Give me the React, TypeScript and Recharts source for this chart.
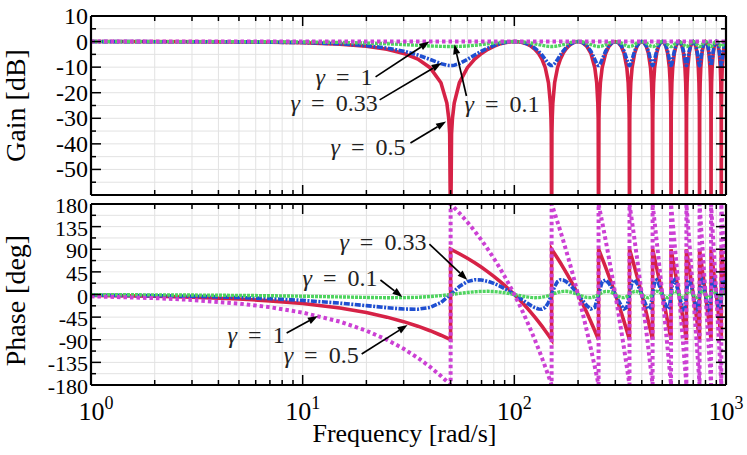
import React from 'react';
import { LineChart, Line, XAxis, YAxis, CartesianGrid, ReferenceLine } from 'recharts';

const FONT = '"Liberation Serif", "Times New Roman", Times, serif';

// ---------- axis ticks ----------
const freqTicks = [1, 2, 3, 4, 5, 6, 7, 8, 9, 10, 20, 30, 40, 50, 60, 70, 80, 90, 100, 200, 300, 400, 500, 600, 700, 800, 900, 1000];
const freqMajorTicks = [1, 10, 100, 1000];
const freqMajorExponents = ['0', '1', '2', '3'];
const gainTicks = [-60, -55, -50, -45, -40, -35, -30, -25, -20, -15, -10, -5, 0, 5, 10];
const gainLabelTicks = [-50, -40, -30, -20, -10, 0, 10];
const phaseTicks = [-180, -157.5, -135, -112.5, -90, -67.5, -45, -22.5, 0, 22.5, 45, 67.5, 90, 112.5, 135, 157.5, 180];
const phaseLabelTicks = [-180, -135, -90, -45, 0, 45, 90, 135, 180];

// ---------- gain data [rad/s] -> [dB] ----------
const gainFreq = [
  1, 5, 10, 15, 20, 25, 30, 35, 40, 45, 48, 49, 49.5, 50, 50.5, 51, 52, 55, 60, 65, 70, 75, 80, 85, 90, 95, 100,
  105, 110, 115, 120, 125, 130, 135, 140, 145, 148, 149, 149.5, 150, 150.5, 151, 152, 155, 160, 165, 170, 175, 180, 185, 190, 195, 200,
  210, 220, 230, 240, 245, 248, 249, 250, 251, 252, 255, 260, 270, 280, 290, 300,
  310, 320, 330, 340, 345, 348, 349, 350, 351, 352, 355, 360, 370, 380, 390, 400,
  410, 420, 430, 440, 445, 448, 449, 450, 451, 452, 455, 460, 470, 480, 490, 500,
  510, 520, 530, 540, 545, 548, 549, 550, 551, 552, 555, 560, 570, 580, 590, 600,
  610, 620, 630, 640, 645, 648, 649, 650, 651, 652, 655, 660, 670, 680, 690, 700,
  710, 720, 730, 740, 745, 748, 749, 750, 751, 752, 755, 760, 770, 780, 790, 800,
  810, 820, 830, 840, 845, 848, 849, 850, 851, 852, 855, 860, 870, 880, 890, 900,
  910, 920, 930, 940, 945, 948, 949, 950, 951, 952, 955, 960, 970, 980, 990, 1000,
];
const gainGamma05 = [
  0, -0.11, -0.44, -1.0, -1.84, -3.01, -4.62, -6.86, -10.2, -16.11, -24.04, -30.06, -36.08, -80, -36.08, -30.06, -24.04, -16.11, -10.2, -6.86, -4.62, -3.01, -1.84, -1.0, -0.44, -0.11, 0,
  -0.11, -0.44, -1.0, -1.84, -3.01, -4.62, -6.86, -10.2, -16.11, -24.04, -30.06, -36.08, -80, -36.08, -30.06, -24.04, -16.11, -10.2, -6.86, -4.62, -3.01, -1.84, -1.0, -0.44, -0.11, 0,
  -0.44, -1.84, -4.62, -10.2, -16.11, -24.04, -30.06, -80, -30.06, -24.04, -16.11, -10.2, -4.62, -1.84, -0.44, 0,
  -0.44, -1.84, -4.62, -10.2, -16.11, -24.04, -30.06, -80, -30.06, -24.04, -16.11, -10.2, -4.62, -1.84, -0.44, 0,
  -0.44, -1.84, -4.62, -10.2, -16.11, -24.04, -30.06, -80, -30.06, -24.04, -16.11, -10.2, -4.62, -1.84, -0.44, 0,
  -0.44, -1.84, -4.62, -10.2, -16.11, -24.04, -30.06, -80, -30.06, -24.04, -16.11, -10.2, -4.62, -1.84, -0.44, 0,
  -0.44, -1.84, -4.62, -10.2, -16.11, -24.04, -30.06, -80, -30.06, -24.04, -16.11, -10.2, -4.62, -1.84, -0.44, 0,
  -0.44, -1.84, -4.62, -10.2, -16.11, -24.04, -30.06, -80, -30.06, -24.04, -16.11, -10.2, -4.62, -1.84, -0.44, 0,
  -0.44, -1.84, -4.62, -10.2, -16.11, -24.04, -30.06, -80, -30.06, -24.04, -16.11, -10.2, -4.62, -1.84, -0.44, 0,
  -0.44, -1.84, -4.62, -10.2, -16.11, -24.04, -30.06, -80, -30.06, -24.04, -16.11, -10.2, -4.62, -1.84, -0.44, 0,
];
const gainGamma033 = [
  0, -0.1, -0.38, -0.87, -1.58, -2.54, -3.76, -5.26, -6.99, -8.63, -9.24, -9.34, -9.36, -9.37, -9.36, -9.34, -9.24, -8.63, -6.99, -5.26, -3.76, -2.54, -1.58, -0.87, -0.38, -0.1, 0,
  -0.1, -0.38, -0.87, -1.58, -2.54, -3.76, -5.26, -6.99, -8.63, -9.24, -9.34, -9.36, -9.37, -9.36, -9.34, -9.24, -8.63, -6.99, -5.26, -3.76, -2.54, -1.58, -0.87, -0.38, -0.1, 0,
  -0.38, -1.58, -3.76, -6.99, -8.63, -9.24, -9.34, -9.37, -9.34, -9.24, -8.63, -6.99, -3.76, -1.58, -0.38, 0,
  -0.38, -1.58, -3.76, -6.99, -8.63, -9.24, -9.34, -9.37, -9.34, -9.24, -8.63, -6.99, -3.76, -1.58, -0.38, 0,
  -0.38, -1.58, -3.76, -6.99, -8.63, -9.24, -9.34, -9.37, -9.34, -9.24, -8.63, -6.99, -3.76, -1.58, -0.38, 0,
  -0.38, -1.58, -3.76, -6.99, -8.63, -9.24, -9.34, -9.37, -9.34, -9.24, -8.63, -6.99, -3.76, -1.58, -0.38, 0,
  -0.38, -1.58, -3.76, -6.99, -8.63, -9.24, -9.34, -9.37, -9.34, -9.24, -8.63, -6.99, -3.76, -1.58, -0.38, 0,
  -0.38, -1.58, -3.76, -6.99, -8.63, -9.24, -9.34, -9.37, -9.34, -9.24, -8.63, -6.99, -3.76, -1.58, -0.38, 0,
  -0.38, -1.58, -3.76, -6.99, -8.63, -9.24, -9.34, -9.37, -9.34, -9.24, -8.63, -6.99, -3.76, -1.58, -0.38, 0,
  -0.38, -1.58, -3.76, -6.99, -8.63, -9.24, -9.34, -9.37, -9.34, -9.24, -8.63, -6.99, -3.76, -1.58, -0.38, 0,
];
const gainGamma01 = [
  0, -0.04, -0.15, -0.33, -0.58, -0.86, -1.17, -1.46, -1.71, -1.88, -1.93, -1.94, -1.94, -1.94, -1.94, -1.94, -1.93, -1.88, -1.71, -1.46, -1.17, -0.86, -0.58, -0.33, -0.15, -0.04, 0,
  -0.04, -0.15, -0.33, -0.58, -0.86, -1.17, -1.46, -1.71, -1.88, -1.93, -1.94, -1.94, -1.94, -1.94, -1.94, -1.93, -1.88, -1.71, -1.46, -1.17, -0.86, -0.58, -0.33, -0.15, -0.04, 0,
  -0.15, -0.58, -1.17, -1.71, -1.88, -1.93, -1.94, -1.94, -1.94, -1.93, -1.88, -1.71, -1.17, -0.58, -0.15, 0,
  -0.15, -0.58, -1.17, -1.71, -1.88, -1.93, -1.94, -1.94, -1.94, -1.93, -1.88, -1.71, -1.17, -0.58, -0.15, 0,
  -0.15, -0.58, -1.17, -1.71, -1.88, -1.93, -1.94, -1.94, -1.94, -1.93, -1.88, -1.71, -1.17, -0.58, -0.15, 0,
  -0.15, -0.58, -1.17, -1.71, -1.88, -1.93, -1.94, -1.94, -1.94, -1.93, -1.88, -1.71, -1.17, -0.58, -0.15, 0,
  -0.15, -0.58, -1.17, -1.71, -1.88, -1.93, -1.94, -1.94, -1.94, -1.93, -1.88, -1.71, -1.17, -0.58, -0.15, 0,
  -0.15, -0.58, -1.17, -1.71, -1.88, -1.93, -1.94, -1.94, -1.94, -1.93, -1.88, -1.71, -1.17, -0.58, -0.15, 0,
  -0.15, -0.58, -1.17, -1.71, -1.88, -1.93, -1.94, -1.94, -1.94, -1.93, -1.88, -1.71, -1.17, -0.58, -0.15, 0,
  -0.15, -0.58, -1.17, -1.71, -1.88, -1.93, -1.94, -1.94, -1.94, -1.93, -1.88, -1.71, -1.17, -0.58, -0.15, 0,
];
const gainGamma1Freq = [1, 1000];
const gainGamma1 = [0, 0];

// ---------- phase data [rad/s] -> [deg] ----------
const phaseFreq = [
  1, 2, 3, 5, 7, 10, 15, 20, 25, 30, 35, 40, 45, 50, 50, 55, 60, 65, 70, 75, 80, 85, 90, 95, 100,
  105, 110, 115, 120, 125, 130, 135, 140, 145, 150, 150, 155, 160, 165, 170, 175, 180, 185, 190, 195, 200,
  210, 220, 230, 240, 250, 250, 260, 270, 280, 290, 300,
  310, 320, 330, 340, 350, 350, 360, 370, 380, 390, 400,
  410, 420, 430, 440, 450, 450, 460, 470, 480, 490, 500,
  510, 520, 530, 540, 550, 550, 560, 570, 580, 590, 600,
  610, 620, 630, 640, 650, 650, 660, 670, 680, 690, 700,
  710, 720, 730, 740, 750, 750, 760, 770, 780, 790, 800,
  810, 820, 830, 840, 850, 850, 860, 870, 880, 890, 900,
  910, 920, 930, 940, 950, 950, 960, 970, 980, 990, 1000,
];
const phaseGamma1 = [
  -3.6, -7.2, -10.8, -18, -25.2, -36, -54, -72, -90, -108, -126, -144, -162, -180, 180, 162, 144, 126, 108, 90, 72, 54, 36, 18, 0,
  -18, -36, -54, -72, -90, -108, -126, -144, -162, -180, 180, 162, 144, 126, 108, 90, 72, 54, 36, 18, 0,
  -36, -72, -108, -144, -180, 180, 144, 108, 72, 36, 0,
  -36, -72, -108, -144, -180, 180, 144, 108, 72, 36, 0,
  -36, -72, -108, -144, -180, 180, 144, 108, 72, 36, 0,
  -36, -72, -108, -144, -180, 180, 144, 108, 72, 36, 0,
  -36, -72, -108, -144, -180, 180, 144, 108, 72, 36, 0,
  -36, -72, -108, -144, -180, 180, 144, 108, 72, 36, 0,
  -36, -72, -108, -144, -180, 180, 144, 108, 72, 36, 0,
  -36, -72, -108, -144, -180, 180, 144, 108, 72, 36, 0,
];
const phaseGamma05 = [
  -1.8, -3.6, -5.4, -9, -12.6, -18, -27, -36, -45, -54, -63, -72, -81, -90, 90, 81, 72, 63, 54, 45, 36, 27, 18, 9, 0,
  -9, -18, -27, -36, -45, -54, -63, -72, -81, -90, 90, 81, 72, 63, 54, 45, 36, 27, 18, 9, 0,
  -18, -36, -54, -72, -90, 90, 72, 54, 36, 18, 0,
  -18, -36, -54, -72, -90, 90, 72, 54, 36, 18, 0,
  -18, -36, -54, -72, -90, 90, 72, 54, 36, 18, 0,
  -18, -36, -54, -72, -90, 90, 72, 54, 36, 18, 0,
  -18, -36, -54, -72, -90, 90, 72, 54, 36, 18, 0,
  -18, -36, -54, -72, -90, 90, 72, 54, 36, 18, 0,
  -18, -36, -54, -72, -90, 90, 72, 54, 36, 18, 0,
  -18, -36, -54, -72, -90, 90, 72, 54, 36, 18, 0,
];
const phaseGamma033 = [
  -1.19, -2.37, -3.56, -5.92, -8.25, -11.7, -17.17, -22.13, -26.22, -28.92, -29.28, -25.7, -15.98, 0, 0, 15.98, 25.7, 29.28, 28.92, 26.22, 22.13, 17.17, 11.7, 5.92, 0,
  -5.92, -11.7, -17.17, -22.13, -26.22, -28.92, -29.28, -25.7, -15.98, 0, 0, 15.98, 25.7, 29.28, 28.92, 26.22, 22.13, 17.17, 11.7, 5.92, 0,
  -11.7, -22.13, -28.92, -25.7, 0, 0, 25.7, 28.92, 22.13, 11.7, 0,
  -11.7, -22.13, -28.92, -25.7, 0, 0, 25.7, 28.92, 22.13, 11.7, 0,
  -11.7, -22.13, -28.92, -25.7, 0, 0, 25.7, 28.92, 22.13, 11.7, 0,
  -11.7, -22.13, -28.92, -25.7, 0, 0, 25.7, 28.92, 22.13, 11.7, 0,
  -11.7, -22.13, -28.92, -25.7, 0, 0, 25.7, 28.92, 22.13, 11.7, 0,
  -11.7, -22.13, -28.92, -25.7, 0, 0, 25.7, 28.92, 22.13, 11.7, 0,
  -11.7, -22.13, -28.92, -25.7, 0, 0, 25.7, 28.92, 22.13, 11.7, 0,
  -11.7, -22.13, -28.92, -25.7, 0, 0, 25.7, 28.92, 22.13, 11.7, 0,
];
const phaseGamma01 = [
  -0.36, -0.72, -1.08, -1.78, -2.46, -3.43, -4.82, -5.83, -6.34, -6.24, -5.49, -4.1, -2.2, 0, 0, 2.2, 4.1, 5.49, 6.24, 6.34, 5.83, 4.82, 3.43, 1.78, 0,
  -1.78, -3.43, -4.82, -5.83, -6.34, -6.24, -5.49, -4.1, -2.2, 0, 0, 2.2, 4.1, 5.49, 6.24, 6.34, 5.83, 4.82, 3.43, 1.78, 0,
  -3.43, -5.83, -6.24, -4.1, 0, 0, 4.1, 6.24, 5.83, 3.43, 0,
  -3.43, -5.83, -6.24, -4.1, 0, 0, 4.1, 6.24, 5.83, 3.43, 0,
  -3.43, -5.83, -6.24, -4.1, 0, 0, 4.1, 6.24, 5.83, 3.43, 0,
  -3.43, -5.83, -6.24, -4.1, 0, 0, 4.1, 6.24, 5.83, 3.43, 0,
  -3.43, -5.83, -6.24, -4.1, 0, 0, 4.1, 6.24, 5.83, 3.43, 0,
  -3.43, -5.83, -6.24, -4.1, 0, 0, 4.1, 6.24, 5.83, 3.43, 0,
  -3.43, -5.83, -6.24, -4.1, 0, 0, 4.1, 6.24, 5.83, 3.43, 0,
  -3.43, -5.83, -6.24, -4.1, 0, 0, 4.1, 6.24, 5.83, 3.43, 0,
];

// ---------- annotations (data coordinates) ----------
const gainNoteLabels = ['1', '0.33', '0.5', '0.1'];
const gainNoteFrom = [[22.1, -13.8], [23.1, -22.8], [32.3, -39.7], [59.4, -21.3]];
const gainNoteTo = [[39.7, 0], [45.3, -8.4], [47.6, -31.3], [52.1, -1.0]];
const phaseNoteLabels = ['0.33', '0.1', '1', '0.5'];
const phaseNoteFrom = [[39.7, 100.4], [23.3, 28.8], [8.4, -76.6], [19.0, -118.3]];
const phaseNoteTo = [[60.0, 28.8], [29.6, -5.0], [11.8, -42.8], [31.3, -60.7]];

// text placement relative to arrow tail (pixels) - styling
const gainNoteText = [
  { dx: -3, dy: 8, anchor: 'end' },
  { dx: -2, dy: 11, anchor: 'end' },
  { dx: -5, dy: 12, anchor: 'end' },
  { dx: -2, dy: 16, anchor: 'start' },
];
const phaseNoteText = [
  { dx: -3, dy: 6, anchor: 'end' },
  { dx: -3, dy: 6, anchor: 'end' },
  { dx: -2, dy: 10, anchor: 'end' },
  { dx: -3, dy: 9, anchor: 'end' },
];

const toPoints = (xs: number[], ys: number[]) => xs.map((w, i) => ({ w, v: ys[i] }));

const RED = { stroke: '#d62246', strokeWidth: 3.6 };
const BLUE = { stroke: '#1f4fd1', strokeWidth: 3.6, strokeDasharray: '6 1.5 2 1.5' };
const GREEN = { stroke: '#4fd45f', strokeWidth: 3.4, strokeDasharray: '3 1' };
const MAGENTA = { stroke: '#cc40d4', strokeWidth: 4, strokeDasharray: '3.5 3' };

const gainLines = [
  { key: 'g05', points: toPoints(gainFreq, gainGamma05), style: RED },
  { key: 'g033', points: toPoints(gainFreq, gainGamma033), style: BLUE },
  { key: 'g01', points: toPoints(gainFreq, gainGamma01), style: GREEN },
  { key: 'g1', points: toPoints(gainGamma1Freq, gainGamma1), style: MAGENTA },
];
const phaseLines = [
  { key: 'p05', points: toPoints(phaseFreq, phaseGamma05), style: RED },
  { key: 'p033', points: toPoints(phaseFreq, phaseGamma033), style: BLUE },
  { key: 'p01', points: toPoints(phaseFreq, phaseGamma01), style: GREEN },
  { key: 'p1', points: toPoints(phaseFreq, phaseGamma1), style: MAGENTA },
];

function FreqTick(props: any) {
  const { x, y, payload, side, showLabels } = props;
  const idx = freqMajorTicks.indexOf(payload.value);
  const major = idx >= 0;
  const len = major ? 10 : 5;
  const dir = side === 'bottom' ? -1 : 1;
  const shift = idx === 0 ? 5 : 0;
  return (
    <g>
      <line x1={x} y1={y} x2={x} y2={y + dir * len} stroke="#000" strokeWidth={1.5} />
      {showLabels && major && (
        <text x={x + shift} y={y + 35} textAnchor="middle" fontFamily={FONT} fontSize={26} fill="#000">
          10
          <tspan dy={-11} fontSize={18}>{freqMajorExponents[idx]}</tspan>
        </text>
      )}
    </g>
  );
}

function ValueTick(props: any) {
  const { x, y, payload, side, labelTicks, labelDy, fontSize } = props;
  const major = labelTicks.includes(payload.value);
  const len = major ? 10 : 5;
  const dir = side === 'left' ? 1 : -1;
  return (
    <g>
      <line x1={x} y1={y} x2={x + dir * len} y2={y} stroke="#000" strokeWidth={1.5} />
      {side === 'left' && major && (
        <text x={x - 3} y={y + labelDy} textAnchor="end" fontFamily={FONT} fontSize={fontSize} fill="#000">
          {String(payload.value)}
        </text>
      )}
    </g>
  );
}

const makeArrow = (label: string, t: { dx: number; dy: number; anchor: string }) => (p: any) => {
  const { x1, y1, x2, y2 } = p;
  const ang = Math.atan2(y2 - y1, x2 - x1);
  const L = 10;
  const W = 3.6;
  const bx = x2 - L * Math.cos(ang);
  const by = y2 - L * Math.sin(ang);
  const pts = `${x2},${y2} ${bx + W * Math.sin(ang)},${by - W * Math.cos(ang)} ${bx - W * Math.sin(ang)},${by + W * Math.cos(ang)}`;
  return (
    <g>
      <line x1={x1} y1={y1} x2={bx} y2={by} stroke="#000" strokeWidth={1.7} />
      <polygon points={pts} fill="#000" />
      <text x={x1 + t.dx} y={y1 + t.dy} textAnchor={t.anchor as any} fontFamily={FONT} fontSize={24} fill="#222">
        <tspan fontStyle="italic">γ</tspan>
        <tspan dx={11}>=</tspan>
        <tspan dx={11}>{label}</tspan>
      </text>
    </g>
  );
};

const axisLine = { stroke: '#000', strokeWidth: 2.2 };

function rotatedTitle(text: string, shift: number) {
  return (p: any) => {
    const vb = p.viewBox || { x: 0, y: 0, width: 0, height: 0 };
    const cx = vb.x + 25;
    const cy = vb.y + vb.height / 2 + shift;
    return (
      <text x={cx} y={cy} transform={`rotate(-90 ${cx} ${cy})`} textAnchor="middle" fontFamily={FONT} fontSize={28} fill="#000">
        {text}
      </text>
    );
  };
}

function Panel(props: {
  height: number;
  margin: any;
  yDomain: [number, number];
  yTicks: number[];
  yLabelTicks: number[];
  labelDy: number;
  tickFont: number;
  title: string;
  titleShift: number;
  lines: any[];
  helper: any[];
  notesLabels: string[];
  notesFrom: number[][];
  notesTo: number[][];
  notesText: any[];
  bottomLabels: boolean;
}) {
  return (
    <LineChart width={747} height={props.height} margin={props.margin} style={{ fontFamily: FONT }}>
      <CartesianGrid stroke="#e2e2e2" strokeWidth={1} />
      <XAxis
        dataKey="w"
        type="number"
        scale="log"
        domain={[1, 1000]}
        ticks={freqTicks}
        interval={0}
        allowDataOverflow
        height={1}
        tickSize={0}
        tickMargin={0}
        tickLine={false}
        axisLine={axisLine}
        tick={<FreqTick side="bottom" showLabels={props.bottomLabels} />}
        label={
          props.bottomLabels
            ? {
                content: (p: any) => {
                  const vb = p.viewBox || { x: 0, y: 0, width: 0, height: 0 };
                  return (
                    <text x={vb.x + vb.width / 2 - 4} y={vb.y + 57} textAnchor="middle" fontFamily={FONT} fontSize={26} fill="#000">
                      Frequency [rad/s]
                    </text>
                  );
                },
              }
            : undefined
        }
      />
      <XAxis
        xAxisId="top"
        orientation="top"
        dataKey="w"
        type="number"
        scale="log"
        domain={[1, 1000]}
        ticks={freqTicks}
        interval={0}
        allowDataOverflow
        height={1}
        tickSize={0}
        tickMargin={0}
        tickLine={false}
        axisLine={axisLine}
        tick={<FreqTick side="top" showLabels={false} />}
      />
      <YAxis
        type="number"
        domain={props.yDomain}
        ticks={props.yTicks}
        interval={0}
        allowDataOverflow
        width={91}
        tickSize={0}
        tickMargin={0}
        tickLine={false}
        axisLine={axisLine}
        tick={<ValueTick side="left" labelTicks={props.yLabelTicks} labelDy={props.labelDy} fontSize={props.tickFont} />}
        label={{ content: rotatedTitle(props.title, props.titleShift) }}
      />
      <YAxis
        yAxisId="right"
        orientation="right"
        type="number"
        domain={props.yDomain}
        ticks={props.yTicks}
        interval={0}
        allowDataOverflow
        width={1}
        tickSize={0}
        tickMargin={0}
        tickLine={false}
        axisLine={axisLine}
        tick={<ValueTick side="right" labelTicks={props.yLabelTicks} labelDy={0} fontSize={props.tickFont} />}
      />
      <Line
        xAxisId="top"
        yAxisId="right"
        data={props.helper}
        dataKey="v"
        stroke="none"
        dot={false}
        activeDot={false}
        legendType="none"
        isAnimationActive={false}
      />
      {props.lines.map((l) => (
        <Line
          key={l.key}
          data={l.points}
          dataKey="v"
          type="linear"
          dot={false}
          activeDot={false}
          fill="none"
          {...l.style}
          isAnimationActive={false}
        />
      ))}
      {props.notesLabels.map((lab, i) => (
        <ReferenceLine
          key={'n' + i}
          segment={[
            { x: props.notesFrom[i][0], y: props.notesFrom[i][1] },
            { x: props.notesTo[i][0], y: props.notesTo[i][1] },
          ]}
          ifOverflow="visible"
          shape={makeArrow(lab, props.notesText[i])}
        />
      ))}
    </LineChart>
  );
}

export default function App() {
  const helper = toPoints(gainGamma1Freq, gainGamma1);
  return (
    <div style={{ position: 'absolute', left: 0, top: 0, width: 747, height: 455, background: '#fff', overflow: 'hidden' }}>
      <div style={{ position: 'absolute', left: 0, top: 0 }}>
        <Panel
          height={205}
          margin={{ top: 15, right: 20, bottom: 9, left: 0 }}
          yDomain={[-60, 10]}
          yTicks={gainTicks}
          yLabelTicks={gainLabelTicks}
          labelDy={8}
          tickFont={24}
          title="Gain [dB]"
          titleShift={0}
          lines={gainLines}
          helper={helper}
          notesLabels={gainNoteLabels}
          notesFrom={gainNoteFrom}
          notesTo={gainNoteTo}
          notesText={gainNoteText}
          bottomLabels={false}
        />
      </div>
      <div style={{ position: 'absolute', left: 0, top: 180 }}>
        <Panel
          height={275}
          margin={{ top: 23, right: 20, bottom: 69, left: 0 }}
          yDomain={[-180, 180]}
          yTicks={phaseTicks}
          yLabelTicks={phaseLabelTicks}
          labelDy={9}
          tickFont={22}
          title="Phase [deg]"
          titleShift={6}
          lines={phaseLines}
          helper={helper}
          notesLabels={phaseNoteLabels}
          notesFrom={phaseNoteFrom}
          notesTo={phaseNoteTo}
          notesText={phaseNoteText}
          bottomLabels={true}
        />
      </div>
    </div>
  );
}
